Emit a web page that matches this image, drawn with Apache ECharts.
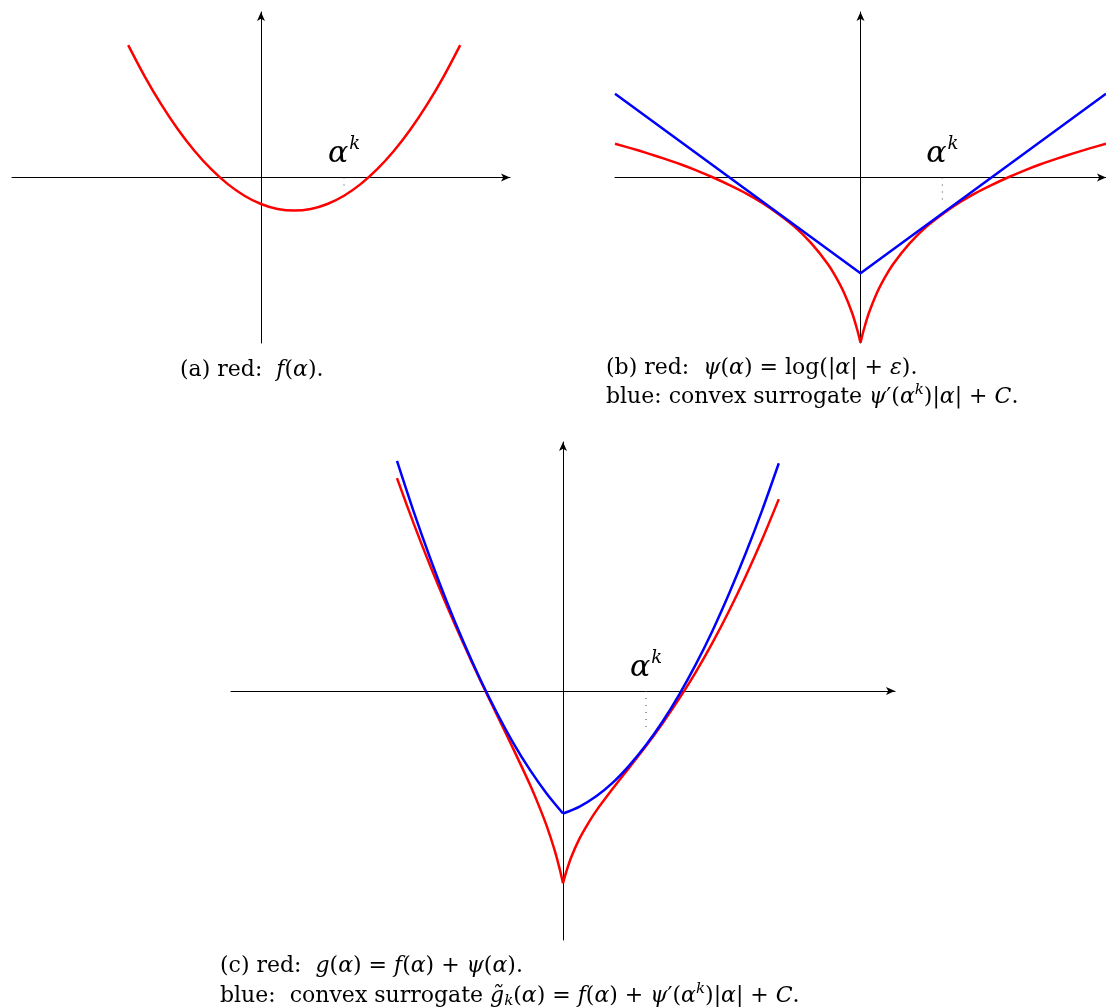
<!DOCTYPE html>
<html>
<head>
<meta charset="utf-8">
<script src="https://cdn.jsdelivr.net/npm/echarts@6/dist/echarts.min.js"></script>
<style>
  body { margin: 0; background: #fff; }
  #chart { width: 1106px; height: 1007px; }
</style>
</head>
<body>
<div id="chart"></div>
<script>
// (a) f(alpha)
var aX = [-4, -3.5, -3, -2.5, -2, -1.5, -1, -0.5, 0, 0.5, 1, 1.5, 2, 2.5, 3, 3.5, 4, 4.5, 5, 5.5, 6];
var aRed = [4, 3.05, 2.2, 1.45, 0.8, 0.25, -0.2, -0.55, -0.8, -0.95, -1, -0.95, -0.8, -0.55, -0.2, 0.25, 0.8, 1.45, 2.2, 3.05, 4];

// (b) psi(alpha) and its surrogate
var bLeftX = [-7.5, -7, -6.5, -6, -5.5, -5, -4.5, -4, -3.5, -3, -2.5, -2, -1.5, -1, -0.75, -0.5, -0.25, -0.1, -0.05, 0];
var bLeftRed = [1.02, 0.88, 0.73, 0.57, 0.40, 0.21, 0.00, -0.23, -0.48, -0.77, -1.11, -1.50, -1.99, -2.61, -3.01, -3.49, -4.11, -4.60, -4.79, -4.99];
var bRightX = [0, 0.05, 0.1, 0.25, 0.5, 0.75, 1, 1.5, 2, 2.5, 3, 3.5, 4, 4.5, 5, 5.5, 6, 6.5, 7, 7.5];
var bRightRed = [-4.99, -4.79, -4.60, -4.11, -3.49, -3.01, -2.61, -1.99, -1.50, -1.11, -0.77, -0.48, -0.23, 0.00, 0.21, 0.40, 0.57, 0.73, 0.88, 1.02];
var bBlueX = [-7.5, 0, 7.5];
var bBlue = [2.53, -2.89, 2.53];

// (c) g(alpha) and its surrogate
var cLeftX = [-5, -4.5, -4, -3.5, -3, -2.5, -2, -1.5, -1, -0.75, -0.5, -0.25, -0.1, -0.05, 0];
var cLeftRed = [6.41, 5.05, 3.77, 2.57, 1.43, 0.34, -0.70, -1.74, -2.81, -3.40, -4.04, -4.80, -5.36, -5.57, -5.79];
var cRightX = [0, 0.05, 0.1, 0.25, 0.5, 0.75, 1, 1.5, 2, 2.5, 3, 3.5, 4, 4.5, 5, 5.5, 6, 6.5];
var cRightRed = [-5.79, -5.61, -5.44, -5.00, -4.44, -4.00, -3.61, -2.94, -2.30, -1.66, -0.97, -0.23, 0.57, 1.45, 2.41, 3.45, 4.57, 5.78];
var cBlueLX = [-5, -4.5, -4, -3.5, -3, -2.5, -2, -1.5, -1, -0.5, 0];
var cBlueL = [6.93, 5.41, 4.00, 2.69, 1.48, 0.37, -0.64, -1.56, -2.37, -3.08, -3.69];
var cBlueRX = [0, 0.5, 1, 1.5, 2, 2.5, 3, 3.5, 4, 4.5, 5, 5.5, 6, 6.5];
var cBlueR = [-3.69, -3.48, -3.17, -2.76, -2.24, -1.63, -0.92, -0.11, 0.80, 1.81, 2.93, 4.14, 5.45, 6.86];

// alpha^k marker and how far its dotted guide goes down
var alphaK = 2.5;
var guideEnd = [-0.35, -0.85, -1.1];

function pts(xs, ys) {
  return xs.map(function (x, i) { return [x, ys[i]]; });
}

var serif = 'DejaVu Serif';
var axisLine = {
  onZero: true,
  symbol: ['none', 'arrow'],
  symbolSize: [6, 9],
  lineStyle: { color: '#000', width: 1 }
};
function axis(idx, min, max) {
  return {
    type: 'value', gridIndex: idx, min: min, max: max,
    axisLine: axisLine, axisTick: { show: false }, axisLabel: { show: false },
    splitLine: { show: false }
  };
}
function curve(idx, data, color, smooth) {
  return {
    type: 'line', xAxisIndex: idx, yAxisIndex: idx, data: data,
    showSymbol: false, smooth: smooth,
    lineStyle: { color: color, width: 2.5 }, silent: true
  };
}
function guide(idx) {
  return {
    type: 'line', xAxisIndex: idx, yAxisIndex: idx,
    data: [[alphaK, 0], [alphaK, guideEnd[idx]]],
    showSymbol: false, lineStyle: { color: '#444', width: 1, type: [1, 6] }, z: 1
  };
}
function akLabel(idx) {
  return {
    type: 'scatter', xAxisIndex: idx, yAxisIndex: idx, symbolSize: 0,
    data: [[alphaK, 0]], silent: true,
    itemStyle: { opacity: 1, color: '#000' },
    label: {
      show: true, position: 'top', distance: 4, color: '#000', opacity: 1,
      textBorderWidth: 0,
      formatter: '{a|α}{k|k}',
      rich: {
        a: { fontFamily: serif, fontStyle: 'italic', fontSize: 30, color: '#000', textBorderWidth: 0 },
        k: { fontFamily: serif, fontStyle: 'italic', fontSize: 18, color: '#000', textBorderWidth: 0, padding: [0, 0, 20, 1] }
      }
    }
  };
}

var rich = {
  r: { fontFamily: serif, fontSize: 22, fill: '#000', lineHeight: 26 },
  i: { fontFamily: serif, fontStyle: 'italic', fontSize: 22, fill: '#000', lineHeight: 26 },
  s: { fontFamily: serif, fontStyle: 'italic', fontSize: 15, fill: '#000', padding: [0, 0, 13, 0] },
  b: { fontFamily: serif, fontStyle: 'italic', fontSize: 15, fill: '#000', padding: [11, 0, 0, 0] }
};
function caption(left, top, text) {
  return { type: 'text', left: left, top: top, style: { text: text, rich: rich, fill: '#000', font: '22px ' + serif } };
}

var chart = echarts.init(document.getElementById('chart'), null, { renderer: 'canvas' });
chart.setOption({
  animation: false,
  grid: [
    { left: 12, top: 12, width: 498, height: 331 },
    { left: 615, top: 12, width: 498, height: 331 },
    { left: 231, top: 442, width: 664, height: 498 }
  ],
  xAxis: [axis(0, -7.5, 7.5), axis(1, -7.5, 7.5), axis(2, -10, 10)],
  yAxis: [axis(0, -5, 5), axis(1, -5, 5), axis(2, -7.5, 7.5)],
  series: [
    guide(0), guide(1), guide(2),
    curve(0, pts(aX, aRed), '#ff0000', 0.3),
    curve(1, pts(bLeftX, bLeftRed), '#ff0000', 0.3),
    curve(1, pts(bRightX, bRightRed), '#ff0000', 0.3),
    curve(1, pts(bBlueX, bBlue), '#0000ff', false),
    curve(2, pts(cLeftX, cLeftRed), '#ff0000', 0.3),
    curve(2, pts(cRightX, cRightRed), '#ff0000', 0.3),
    curve(2, pts(cBlueLX, cBlueL), '#0000ff', 0.3),
    curve(2, pts(cBlueRX, cBlueR), '#0000ff', 0.3),
    akLabel(0), akLabel(1), akLabel(2)
  ],
  graphic: [
    caption(180, 359, '{r|(a) red:  }{i|f}{r|(}{i|α}{r|).}'),
    caption(606, 357, '{r|(b) red:  }{i|ψ}{r|(}{i|α}{r|) = log(|}{i|α}{r|| + }{i|ε}{r|).}'),
    caption(606, 383, '{r|blue: convex surrogate }{i|ψ}{r|′(}{i|α}{s|k}{r|)|}{i|α}{r|| + }{i|C}{r|.}'),
    caption(220, 955, '{r|(c) red:  }{i|g}{r|(}{i|α}{r|) = }{i|f}{r|(}{i|α}{r|) + }{i|ψ}{r|(}{i|α}{r|).}'),
    caption(220, 982, '{r|blue:  convex surrogate }{i|g̃}{b|k}{r|(}{i|α}{r|) = }{i|f}{r|(}{i|α}{r|) + }{i|ψ}{r|′(}{i|α}{s|k}{r|)|}{i|α}{r|| + }{i|C}{r|.}')
  ]
});
</script>
</body>
</html>
